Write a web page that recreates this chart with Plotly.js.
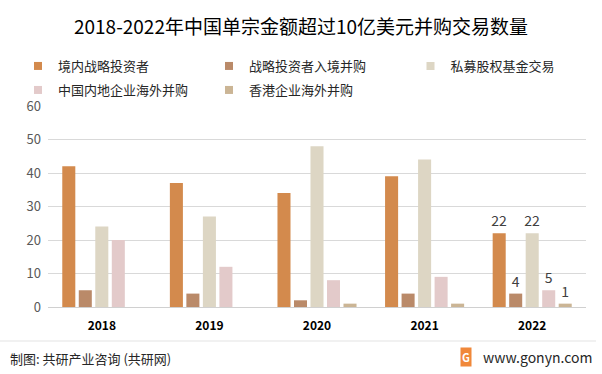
<!DOCTYPE html>
<html>
<head>
<meta charset="utf-8">
<script src="https://cdn.plot.ly/plotly-3.0.1.min.js"></script>
<style>html,body{margin:0;padding:0;background:#fff;}#chart{width:602px;height:374px;}</style>
</head>
<body>
<div id="chart"></div>
<script>
const years = ['2018', '2019', '2020', '2021', '2022'];
const seriesNames = ['境内战略投资者', '战略投资者入境并购', '私募股权基金交易', '中国内地企业海外并购', '香港企业海外并购'];
const domesticStrategic = [42, 37, 34, 39, 22];
const inboundStrategic = [5, 4, 2, 4, 4];
const privateEquity = [24, 27, 48, 44, 22];
const mainlandOutbound = [20, 12, 8, 9, 5];
const hongkongOutbound = [0, 0, 1, 1, 1];
const colors = ['#D38A4D', '#BA8A69', '#DDD6C4', '#E3CACA', '#CBB595'];
const labeledYear = '2022';

const seriesValues = [domesticStrategic, inboundStrategic, privateEquity, mainlandOutbound, hongkongOutbound];
const legendOf = ['legend', 'legend', 'legend3', 'legend2', 'legend2'];
const FONT = 'Noto Sans CJK SC, sans-serif';

const traces = [];
seriesValues.forEach((vals, i) => {
  traces.push({
    type: 'bar',
    name: seriesNames[i],
    x: years,
    y: vals,
    marker: {color: colors[i]},
    text: vals.map((v, j) => years[j] === labeledYear ? String(v) : ''),
    textposition: 'outside',
    constraintext: 'none',
    cliponaxis: false,
    textfont: {family: FONT, size: 14, color: '#404040'},
    showlegend: false,
    hoverinfo: 'x+y+name'
  });
});
// legend entries (square markers)
seriesValues.forEach((vals, i) => {
  traces.push({
    type: 'scatter',
    mode: 'markers',
    name: seriesNames[i],
    x: [null],
    y: [null],
    marker: {symbol: 'square', size: 8, color: colors[i]},
    legend: legendOf[i],
    showlegend: true
  });
});

const legendBase = {
  orientation: 'h',
  xanchor: 'left',
  yanchor: 'middle',
  x: (18 - 48) / 538,
  font: {family: FONT, size: 13, color: '#262626'},
  entrywidth: 146,
  entrywidthmode: 'pixels',
  bgcolor: 'rgba(0,0,0,0)',
  itemclick: false
};

const layout = {
  width: 602,
  height: 374,
  margin: {l: 48, r: 16, t: 106, b: 67, autoexpand: false},
  paper_bgcolor: '#ffffff',
  plot_bgcolor: '#ffffff',
  font: {family: FONT, color: '#404040'},
  title: {
    text: '2018-2022年中国单宗金额超过10亿美元并购交易数量',
    font: {family: FONT, size: 19, color: '#000000'},
    x: 0.5, xanchor: 'center',
    y: 1 - 27 / 374, yanchor: 'middle', yref: 'container'
  },
  barmode: 'group',
  bargap: 0.233,
  bargroupgap: 0.21,
  xaxis: {
    type: 'category',
    showgrid: false,
    showline: true,
    linecolor: '#D0D0D0',
    linewidth: 1,
    ticks: '',
    tickfont: {family: FONT, size: 12, color: '#000000', weight: 'bold'},
    ticklabelstandoff: 8
  },
  yaxis: {
    range: [0, 60],
    dtick: 10,
    showgrid: true,
    gridcolor: '#D9D9D9',
    gridwidth: 1,
    zeroline: false,
    showline: false,
    ticks: '',
    tickfont: {family: FONT, size: 13, color: '#595959'},
    ticklabelstandoff: 6
  },
  legend: Object.assign({}, legendBase, {y: (307 - 66) / 201}),
  legend3: Object.assign({}, legendBase, {x: (410.5 - 48) / 538, y: (307 - 66) / 201, entrywidth: 120}),
  legend2: Object.assign({}, legendBase, {y: (307 - 90) / 201}),
  shapes: [{
    type: 'line', xref: 'paper', yref: 'paper',
    x0: -48 / 538, x1: (596 - 48) / 538,
    y0: (307 - 341) / 201, y1: (307 - 341) / 201,
    line: {color: '#E3E3E3', width: 1}
  }],
  annotations: [
    {
      text: '制图: 共研产业咨询 (共研网)',
      xref: 'paper', yref: 'paper',
      x: -40 / 538, y: (307 - 358) / 201,
      xanchor: 'left', yanchor: 'middle', showarrow: false,
      font: {family: FONT, size: 13, color: '#262626'}
    },
    {
      text: '<b>G</b>',
      xref: 'paper', yref: 'paper',
      x: (466 - 48) / 538, y: (307 - 357) / 201,
      xanchor: 'center', yanchor: 'middle', showarrow: false,
      bgcolor: '#F0883A', borderpad: 1,
      font: {family: FONT, size: 11, color: '#ffffff'}
    },
    {
      text: 'www.gonyn.com',
      xref: 'paper', yref: 'paper',
      x: (594 - 48) / 538, y: (307 - 357) / 201,
      xanchor: 'right', yanchor: 'middle', showarrow: false,
      font: {family: FONT, size: 14, color: '#262626'}
    }
  ]
};

Plotly.newPlot('chart', traces, layout, {displayModeBar: false, staticPlot: true});
</script>
</body>
</html>
